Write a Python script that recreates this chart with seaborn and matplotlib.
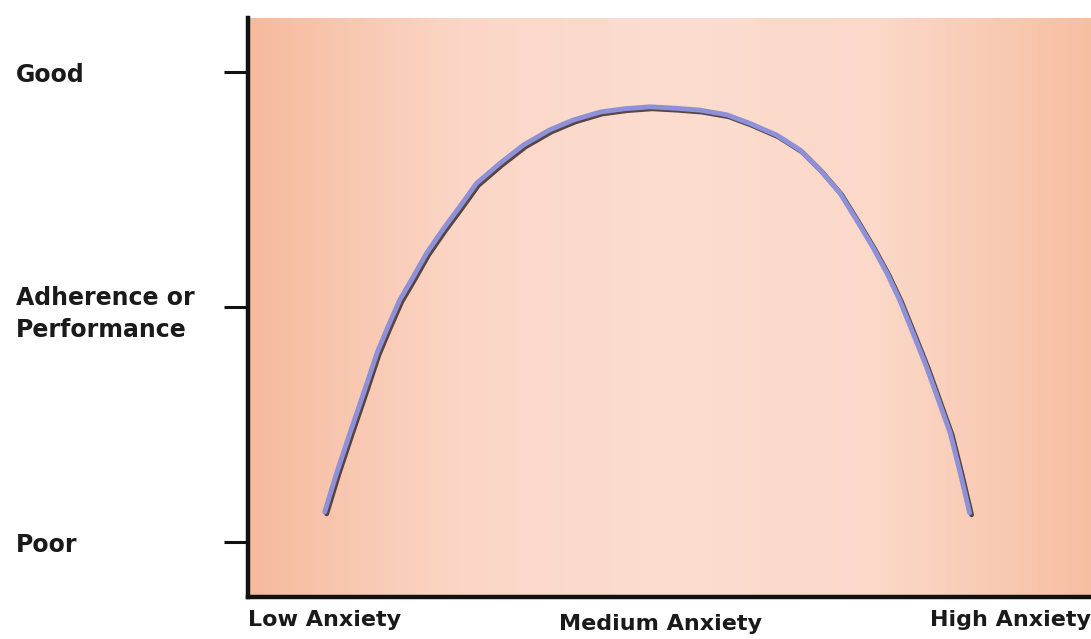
import numpy as np
import pandas as pd
import seaborn as sns
import matplotlib
matplotlib.use("Agg")
from matplotlib import pyplot as plt
from matplotlib import patheffects as pe
from matplotlib.colors import LinearSegmentedColormap
from matplotlib.transforms import ScaledTranslation

# curve (x: 0 = low anxiety .. 100, y: 0 = poor .. 10 = good)
anxiety = [9.1, 10.5, 12.1, 13.7, 15.3, 16.6, 18.0, 19.6, 21.2, 23.2, 25.1, 27.1,
           29.9, 32.7, 35.8, 38.6, 41.8, 44.7, 47.7, 50.7, 53.6, 56.8, 59.5, 62.7,
           65.5, 67.9, 70.2, 72.2, 74.1, 75.8, 77.3, 78.9, 80.5, 81.9, 83.3, 84.5, 85.6]
performance = [0.64, 1.46, 2.32, 3.16, 4.02, 4.58, 5.15, 5.64, 6.15, 6.67, 7.13, 7.63,
               8.06, 8.45, 8.77, 8.98, 9.15, 9.22, 9.26, 9.23, 9.19, 9.09, 8.91, 8.66,
               8.34, 7.91, 7.43, 6.85, 6.28, 5.72, 5.15, 4.44, 3.72, 3.02, 2.32, 1.46, 0.62]

y_ticks = [0, 5, 10]
y_labels = ['Poor', 'Adherence or\nPerformance', 'Good']
x_ticks = [0, 48.9, 100]
x_labels = ['Low Anxiety', 'Medium Anxiety', 'High Anxiety']

df = pd.DataFrame({'Anxiety': anxiety, 'Performance': performance})

sns.set_theme(style='ticks')
plt.rcParams['font.family'] = ['DejaVu Sans']

fig = plt.figure(figsize=(10.91, 6.39), dpi=100)
ax = fig.add_axes([248 / 1091, 42 / 639, 1 - 248 / 1091, 579 / 639])

xlim = (0, 100)
ylim = (-1.17, 11.15)

# background gradient: salmon at edges, lighter in the middle
cmap = LinearSegmentedColormap.from_list('bg', ['#F6BA9D', '#FBD6C6', '#FCDDD0', '#FBD8C8', '#F7BFA2'])
grad = np.linspace(0, 1, 256).reshape(1, -1)
ax.imshow(grad, cmap=cmap, aspect='auto', extent=[xlim[0], xlim[1], ylim[0], ylim[1]], zorder=0)

sns.lineplot(data=df, x='Anxiety', y='Performance', ax=ax, color='#8E90D8', linewidth=3.5,
             sort=False, zorder=3, solid_joinstyle='round', solid_capstyle='round',
             path_effects=[pe.SimpleLineShadow(offset=(1.4, -1.4), shadow_color='#3a2c2c', alpha=0.85),
                           pe.Normal()])

ax.set_xlim(*xlim)
ax.set_ylim(*ylim)
ax.set_xlabel('')
ax.set_ylabel('')

for side in ['top', 'right']:
    ax.spines[side].set_visible(False)
for side in ['left', 'bottom']:
    ax.spines[side].set_linewidth(3.2)
    ax.spines[side].set_color('#111111')

ax.set_yticks(y_ticks)
ax.set_yticklabels(y_labels, fontsize=17, fontweight='bold', color='#1a1a1a', linespacing=1.45)
ax.tick_params(axis='y', length=17, width=2.2, color='#111111', pad=150)
for lab in ax.get_yticklabels():
    lab.set_ha('left')
    lab.set_multialignment('left')

ax.set_xticks(x_ticks)
ax.set_xticklabels(x_labels, fontsize=16, fontweight='bold', color='#1a1a1a')
ax.tick_params(axis='x', length=0, pad=9)
xl = ax.get_xticklabels()
xl[0].set_ha('left')
xl[2].set_ha('right')
xl[1].set_transform(xl[1].get_transform() + ScaledTranslation(0, -3 / 72, fig.dpi_scale_trans))

fig.savefig('out.png', dpi=100, facecolor='white')
